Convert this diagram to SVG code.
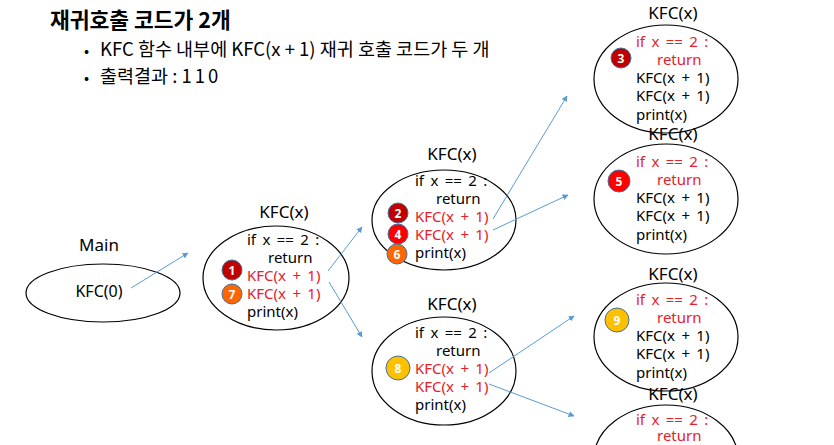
<svg xmlns="http://www.w3.org/2000/svg" width="834" height="445" viewBox="0 0 834 445">
<defs>
<marker id="ah" viewBox="0 0 10 10" refX="9" refY="5" markerWidth="6" markerHeight="6" orient="auto" markerUnits="userSpaceOnUse"><path d="M0,0 L10,5 L0,10 Z" fill="#5B9BD5"/></marker>
<style>
text{font-family:"Noto Sans","Noto Sans CJK KR",sans-serif;fill:#000}
.t{font-size:21.5px;font-weight:bold;font-family:"Noto Sans CJK KR","Noto Sans",sans-serif}
.b{font-size:18.5px;font-family:"Noto Sans CJK KR","Noto Sans",sans-serif}
.lbl{font-size:17px;text-anchor:middle}
.c{font-size:15px;word-spacing:2.5px}
.r{fill:#E8202A}
.e{fill:#fff;stroke:#000;stroke-width:1.2}
.conn line{stroke:#5B9BD5;stroke-width:1;marker-end:url(#ah)}
.n{font-size:12px;font-weight:bold;fill:#fff;text-anchor:middle}
.bc{stroke:#41719C;stroke-width:1}
</style>
</defs>
<rect width="834" height="445" fill="#fff"/>
<g id="header">
<text class="t" x="50" y="28">재귀호출 코드가 2개</text>
<text class="b" x="84" y="56" style="font-size:15px">•</text>
<text class="b" x="100" y="56">KFC 함수 내부에 KFC(x + 1) 재귀 호출 코드가 두 개</text>
<text class="b" x="84" y="83" style="font-size:15px">•</text>
<text class="b" x="100" y="83">출력결과 : <tspan letter-spacing="3">110</tspan></text>
</g>
<g id="main">
<text class="lbl" x="99" y="251">Main</text>
<ellipse class="e" cx="103" cy="293" rx="77" ry="29"/>
<text class="c" x="99" y="297" text-anchor="middle" style="font-size:16px">KFC(0)</text>
</g>
<g id="kfc1">
<text class="lbl" x="284" y="218">KFC(x)</text>
<ellipse class="e" cx="276" cy="278" rx="73" ry="52"/>
<text class="c" x="247" y="245">if x == 2 :</text>
<text class="c" x="268" y="263">return</text>
<text class="c r" x="247" y="281">KFC(x + 1)</text>
<text class="c r" x="247" y="299">KFC(x + 1)</text>
<text class="c" x="247" y="317">print(x)</text>
<circle class="bc" cx="232" cy="270" r="10" fill="#C00000"/><text class="n" x="232" y="274.5">1</text>
<circle class="bc" cx="232" cy="294" r="10" fill="#FF6600"/><text class="n" x="232" y="298.5">7</text>
</g>
<g id="kfc2">
<text class="lbl" x="452" y="160">KFC(x)</text>
<ellipse class="e" cx="444" cy="220" rx="72" ry="50"/>
<text class="c" x="415" y="186">if x == 2 :</text>
<text class="c" x="436" y="204">return</text>
<text class="c r" x="415" y="222">KFC(x + 1)</text>
<text class="c r" x="415" y="240">KFC(x + 1)</text>
<text class="c" x="415" y="258">print(x)</text>
<circle class="bc" cx="398" cy="213" r="10" fill="#C00000"/><text class="n" x="398" y="217.5">2</text>
<circle class="bc" cx="398" cy="234" r="10" fill="#FF0000"/><text class="n" x="398" y="238.5">4</text>
<circle class="bc" cx="397" cy="254" r="10" fill="#FF6600"/><text class="n" x="397" y="258.5">6</text>
</g>
<g id="kfc3">
<text class="lbl" x="452" y="310">KFC(x)</text>
<ellipse class="e" cx="444" cy="371" rx="72" ry="54"/>
<text class="c" x="415" y="338">if x == 2 :</text>
<text class="c" x="436" y="356">return</text>
<text class="c r" x="415" y="374">KFC(x + 1)</text>
<text class="c r" x="415" y="392">KFC(x + 1)</text>
<text class="c" x="415" y="410">print(x)</text>
<circle class="bc" cx="398" cy="368" r="12" fill="#FFC000"/><text class="n" x="398" y="372.5">8</text>
</g>
<g id="kfc4">
<text class="lbl" x="673" y="19">KFC(x)</text>
<ellipse class="e" cx="666" cy="79" rx="72" ry="54"/>
<text class="c r" x="636" y="47">if x == 2 :</text>
<text class="c r" x="657" y="65">return</text>
<text class="c" x="636" y="83">KFC(x + 1)</text>
<text class="c" x="636" y="101">KFC(x + 1)</text>
<text class="c" x="636" y="120">print(x)</text>
<circle class="bc" cx="621" cy="58" r="10" fill="#C00000"/><text class="n" x="621" y="62.5">3</text>
</g>
<g id="kfc5">
<text class="lbl" x="673" y="140">KFC(x)</text>
<ellipse class="e" cx="666" cy="199" rx="72" ry="55" fill-opacity="0"/>
<text class="c r" x="636" y="167">if x == 2 :</text>
<text class="c r" x="657" y="185">return</text>
<text class="c" x="636" y="203">KFC(x + 1)</text>
<text class="c" x="636" y="221">KFC(x + 1)</text>
<text class="c" x="636" y="240">print(x)</text>
<circle class="bc" cx="619" cy="181" r="11" fill="#FF0000"/><text class="n" x="619" y="185.5">5</text>
</g>
<g id="kfc6">
<text class="lbl" x="673" y="280">KFC(x)</text>
<ellipse class="e" cx="666" cy="337" rx="72" ry="54"/>
<text class="c r" x="636" y="305">if x == 2 :</text>
<text class="c r" x="657" y="323">return</text>
<text class="c" x="636" y="341">KFC(x + 1)</text>
<text class="c" x="636" y="359">KFC(x + 1)</text>
<text class="c" x="636" y="378">print(x)</text>
<circle class="bc" cx="617" cy="320" r="12" fill="#FFC000"/><text class="n" x="617" y="324.5">9</text>
</g>
<g id="kfc7">
<ellipse class="e" cx="666" cy="459" rx="72" ry="54" fill-opacity="0"/>
<text class="lbl" x="673" y="400">KFC(x)</text>
<text class="c r" x="636" y="425">if x == 2 :</text>
<text class="c r" x="657" y="441">return</text>
</g>
<g id="connectors" class="conn">
<line x1="131" y1="288" x2="188" y2="253"/>
<line x1="328" y1="271" x2="362" y2="227"/>
<line x1="329" y1="282" x2="362" y2="337"/>
<line x1="493" y1="219" x2="567" y2="96"/>
<line x1="493" y1="230" x2="568" y2="195"/>
<line x1="489" y1="373" x2="574" y2="316"/>
<line x1="489" y1="384" x2="574" y2="416"/>
</g>
</svg>
